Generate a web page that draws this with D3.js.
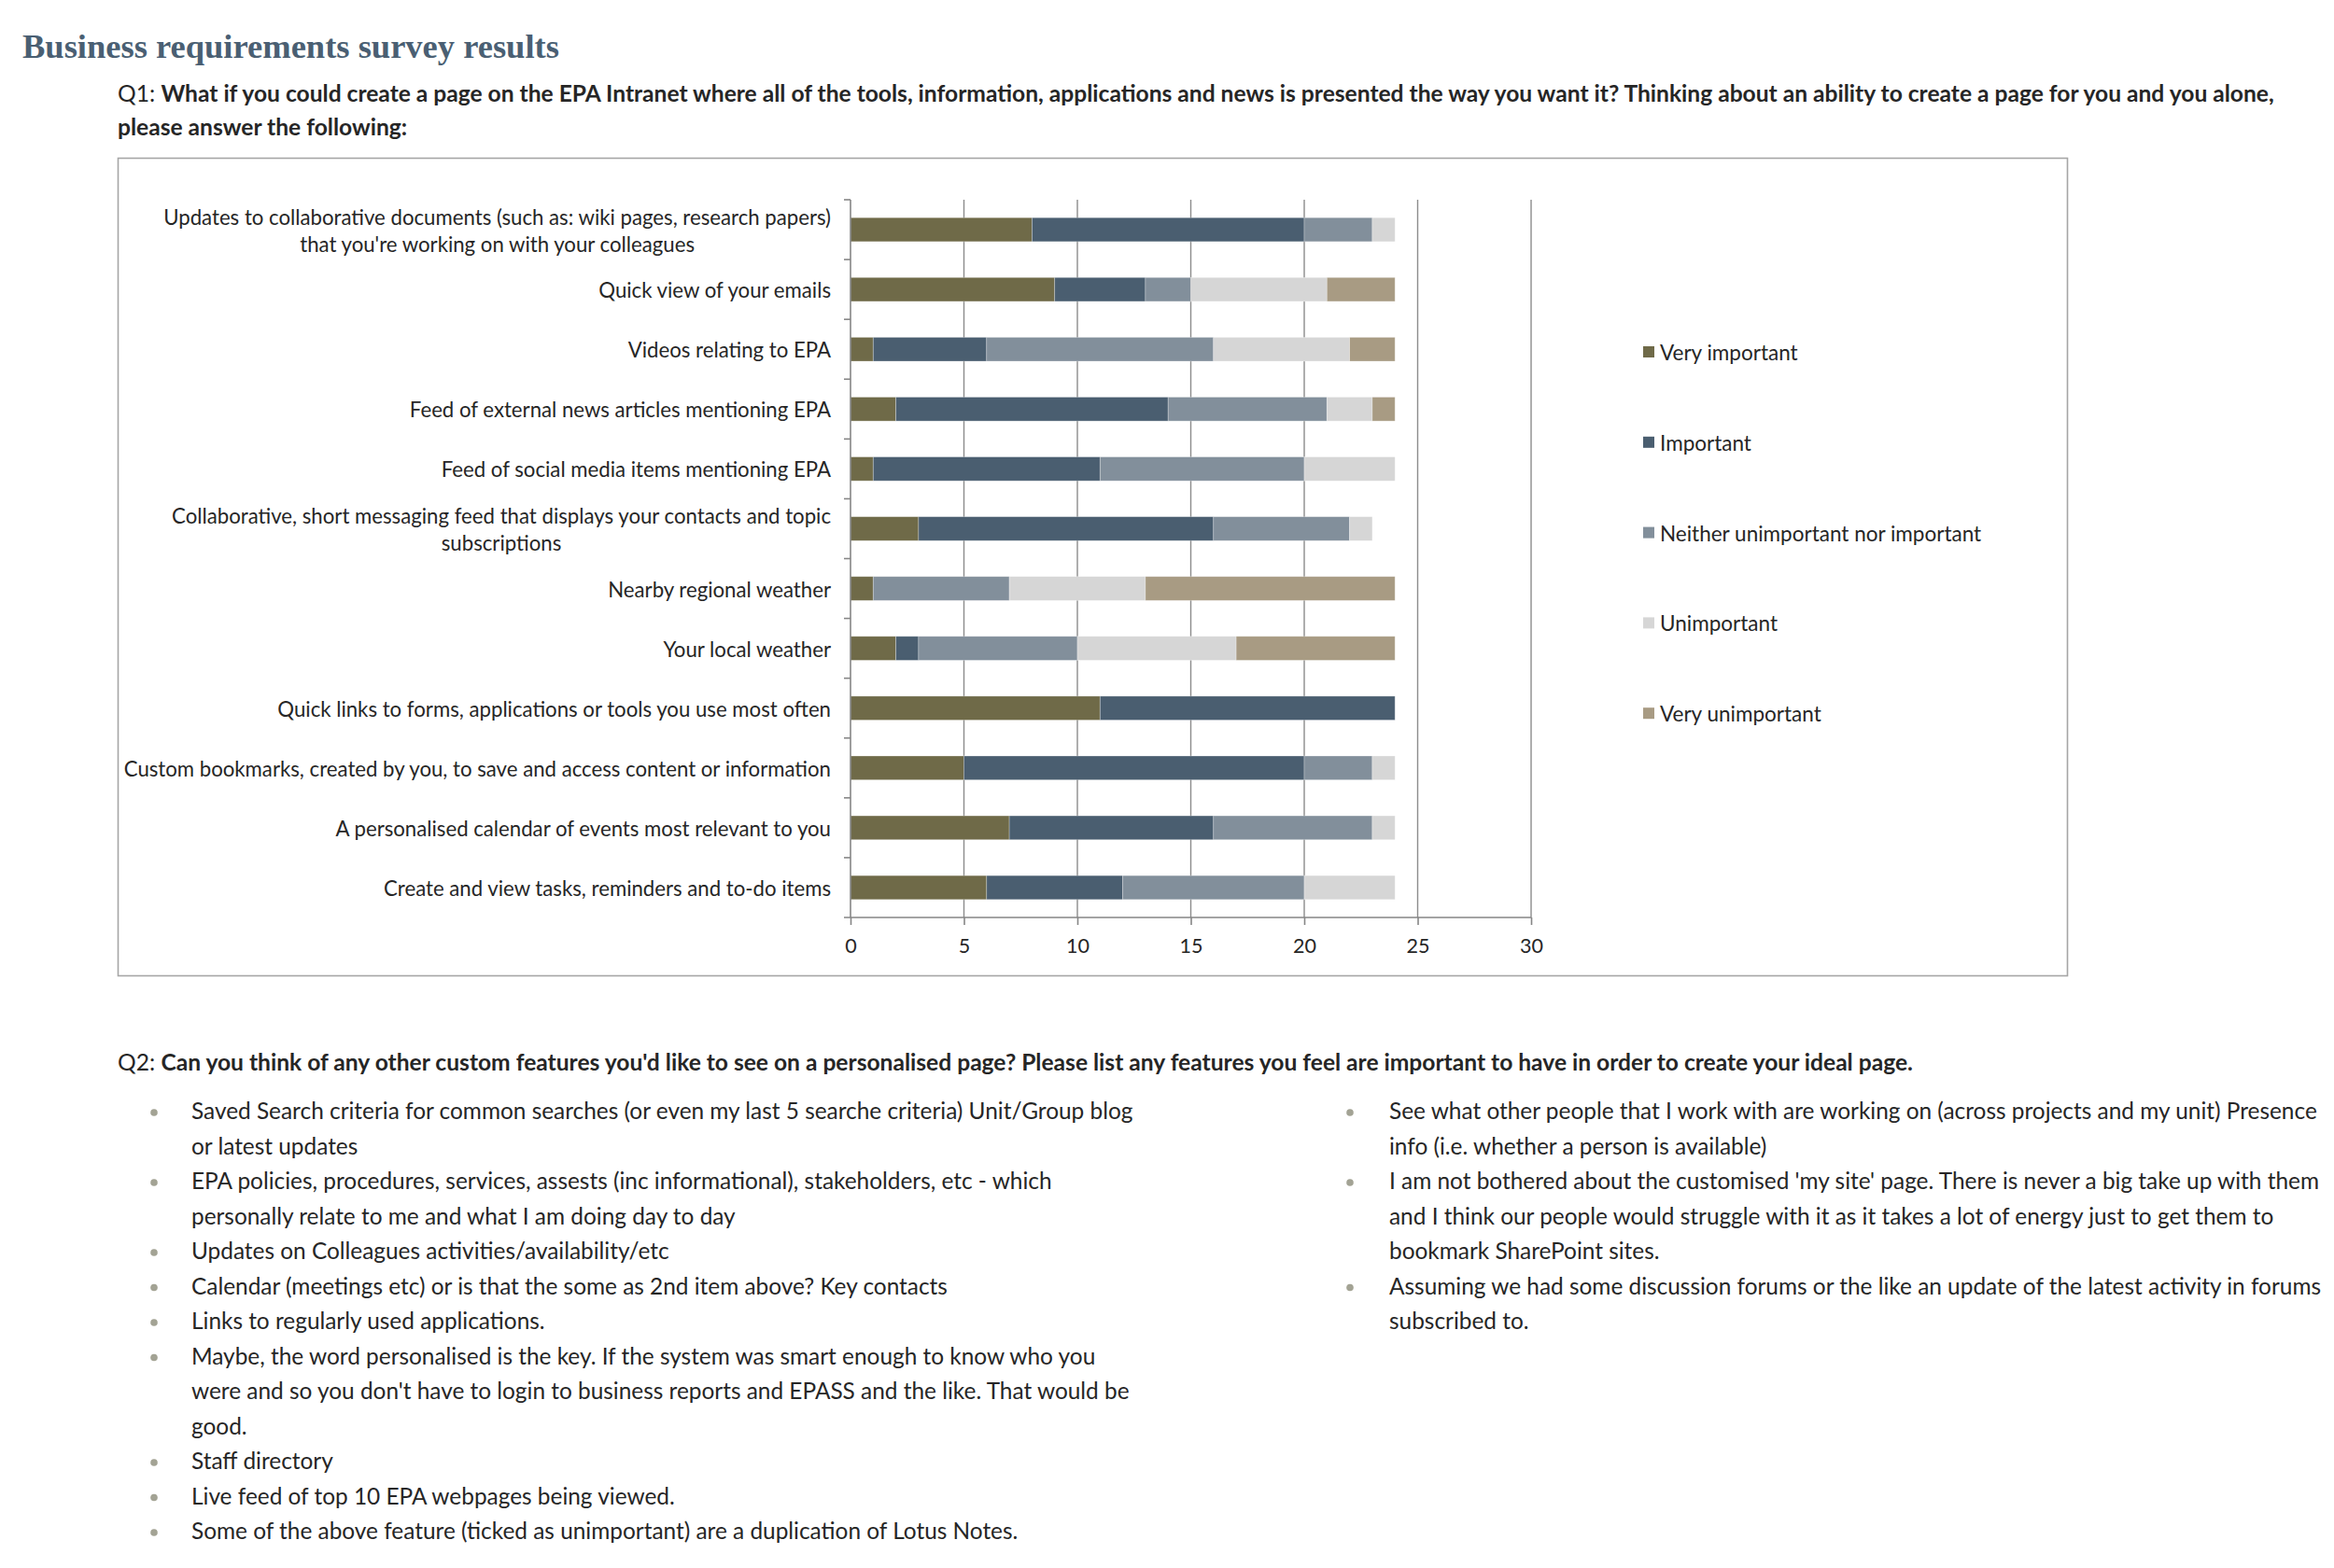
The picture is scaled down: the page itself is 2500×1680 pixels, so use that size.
<!DOCTYPE html>
<html>
<head>
<meta charset="utf-8">
<script src="https://cdn.jsdelivr.net/npm/d3@7"></script>
<style>
  body { margin: 0; background: #fff; }
  svg { display: block; }
</style>
</head>
<body>
<svg id="page" width="2500" height="1680"></svg>
<script>
// ---- data ----
const categories = [
  ["Updates to collaborative documents (such as: wiki pages, research papers)", "that you're working on with your colleagues"],
  ["Quick view of your emails"],
  ["Videos relating to EPA"],
  ["Feed of external news articles mentioning EPA"],
  ["Feed of social media items mentioning EPA"],
  ["Collaborative, short messaging feed that displays your contacts and topic", "subscriptions"],
  ["Nearby regional weather"],
  ["Your local weather"],
  ["Quick links to forms, applications or tools you use most often"],
  ["Custom bookmarks, created by you, to save and access content or information"],
  ["A personalised calendar of events most relevant to you"],
  ["Create and view tasks, reminders and to-do items"]
];
const seriesNames = ["Very important", "Important", "Neither unimportant nor important", "Unimportant", "Very unimportant"];
const veryImportant   = [8, 9, 1, 2, 1, 3, 1, 2, 11, 5, 7, 6];
const important       = [12, 4, 5, 12, 10, 13, 0, 1, 13, 15, 9, 6];
const neither         = [3, 2, 10, 7, 9, 6, 6, 7, 0, 3, 7, 8];
const unimportant     = [1, 6, 6, 2, 4, 1, 6, 7, 0, 1, 1, 4];
const veryUnimportant = [0, 3, 2, 1, 0, 0, 11, 7, 0, 0, 0, 0];
const xTicks = [0, 5, 10, 15, 20, 25, 30];

const titleText = "Business requirements survey results";
const q1Lines = [
  "What if you could create a page on the EPA Intranet where all of the tools, information, applications and news is presented the way you want it? Thinking about an ability to create a page for you and you alone,",
  "please answer the following:"
];
const q2Text = "Can you think of any other custom features you'd like to see on a personalised page? Please list any features you feel are important to have in order to create your ideal page.";
const leftBullets = [
  ["Saved Search criteria for common searches (or even my last 5 searche criteria) Unit/Group blog", "or latest updates"],
  ["EPA policies, procedures, services, assests (inc informational), stakeholders, etc - which", "personally relate to me and what I am doing day to day"],
  ["Updates on Colleagues activities/availability/etc"],
  ["Calendar (meetings etc) or is that the some as 2nd item above? Key contacts"],
  ["Links to regularly used applications."],
  ["Maybe, the word personalised is the key. If the system was smart enough to know who you", "were and so you don't have to login to business reports and EPASS and the like. That would be", "good."],
  ["Staff directory"],
  ["Live feed of top 10 EPA webpages being viewed."],
  ["Some of the above feature (ticked as unimportant) are a duplication of Lotus Notes."]
];
const rightBullets = [
  ["See what other people that I work with are working on (across projects and my unit) Presence", "info (i.e. whether a person is available)"],
  ["I am not bothered about the customised 'my site' page. There is never a big take up with them", "and I think our people would struggle with it as it takes a lot of energy just to get them to", "bookmark SharePoint sites."],
  ["Assuming we had some discussion forums or the like an update of the latest activity in forums", "subscribed to."]
];

const colors = ["#6f6a48", "#4a5e70", "#828f9b", "#d6d6d6", "#a89b83"];
const textColor = "#262626";
const font = "Lato, 'Open Sans', sans-serif";

const svg = d3.select("#page");

// ---- heading texts ----
svg.append("text")
  .attr("x", 24).attr("y", 62)
  .attr("font-family", "'Liberation Serif', serif")
  .attr("font-weight", "bold")
  .attr("font-size", 36.5)
  .attr("fill", "#4a5f73")
  .text(titleText);

const q1 = svg.append("g").attr("font-family", font).attr("font-size", 24.6).attr("fill", textColor);
const q1first = q1.append("text").attr("x", 126).attr("y", 109);
q1first.append("tspan").text("Q1: ");
q1first.append("tspan").attr("font-weight", "bold").text(q1Lines[0]);
q1.append("text").attr("x", 126).attr("y", 145).attr("font-weight", "bold").text(q1Lines[1]);

// ---- chart frame ----
svg.append("rect")
  .attr("x", 126.5).attr("y", 169.5)
  .attr("width", 2088).attr("height", 876)
  .attr("fill", "none").attr("stroke", "#a6a6a6").attr("stroke-width", 1.6);

// ---- scales ----
const rows = categories.map((c, i) => ({
  key: c.join(" "),
  lines: c,
  "Very important": veryImportant[i],
  "Important": important[i],
  "Neither unimportant nor important": neither[i],
  "Unimportant": unimportant[i],
  "Very unimportant": veryUnimportant[i]
}));

const x = d3.scaleLinear().domain([0, 30]).range([911, 1640]);
const y = d3.scaleBand()
  .domain(rows.map(d => d.key))
  .range([214, 983])
  .paddingInner(0.6)
  .paddingOuter(0.3);
const color = d3.scaleOrdinal().domain(seriesNames).range(colors);

// gridlines
svg.append("g")
  .selectAll("line")
  .data(xTicks.slice(1))
  .join("line")
    .attr("x1", d => x(d)).attr("x2", d => x(d))
    .attr("y1", 214).attr("y2", 983)
    .attr("stroke", "#8c8c8c").attr("stroke-width", 1.4);

// stacked bars
const stacked = d3.stack().keys(seriesNames)(rows);
svg.append("g")
  .selectAll("g")
  .data(stacked)
  .join("g")
    .attr("fill", d => color(d.key))
  .selectAll("rect")
  .data(d => d)
  .join("rect")
    .attr("x", d => x(d[0]))
    .attr("width", d => x(d[1]) - x(d[0]))
    .attr("y", d => y(d.data.key))
    .attr("height", y.bandwidth())
    .attr("stroke", "#ffffff").attr("stroke-opacity", 0.35).attr("stroke-width", 0.8);

// left axis with ticks between categories
const half = (y.step() - y.bandwidth()) / 2;
const bounds = rows.map(d => y(d.key) - half);
const left = svg.append("g").attr("stroke", "#868686").attr("stroke-width", 1.6);
left.append("line").attr("x1", x(0)).attr("x2", x(0)).attr("y1", 214).attr("y2", 983);
left.selectAll(".tk").data(bounds).join("line")
  .attr("class", "tk")
  .attr("x1", x(0) - 7).attr("x2", x(0))
  .attr("y1", d => d).attr("y2", d => d);

// bottom axis
const bottom = svg.append("g")
  .attr("transform", "translate(0,983)")
  .call(d3.axisBottom(x).tickValues(xTicks).tickSize(8).tickSizeOuter(0).tickPadding(15));
bottom.select(".domain").attr("stroke", "#868686").attr("stroke-width", 1.6)
  .attr("d", `M${x(0) - 7},0H${x(30)}`);
bottom.selectAll(".tick line").attr("stroke", "#868686").attr("stroke-width", 1.6);
bottom.selectAll(".tick text")
  .attr("font-family", font).attr("font-size", 21.5).attr("fill", textColor);

// category labels
const labels = svg.append("g").attr("font-family", font).attr("font-size", 22.2).attr("fill", textColor);
rows.forEach(d => {
  const cy = y(d.key) + y.bandwidth() / 2;
  const lh = 29;
  const t = labels.append("text");
  d.lines.forEach((ln, i) => {
    t.append("tspan").attr("y", cy + (i - (d.lines.length - 1) / 2) * lh + 9).text(ln);
  });
  // widest line right-aligned at 890, other lines centred on it
  const widths = [];
  t.selectAll("tspan").each(function() { widths.push(this.getComputedTextLength()); });
  const maxW = d3.max(widths);
  const mid = 890 - maxW / 2;
  t.attr("text-anchor", "middle").selectAll("tspan").attr("x", mid);
});

// legend
const legend = svg.append("g").attr("font-family", font).attr("font-size", 22.5).attr("fill", textColor);
seriesNames.forEach((s, i) => {
  const cy = 377 + i * 96.8;
  legend.append("rect").attr("x", 1760).attr("y", cy - 6).attr("width", 12).attr("height", 12).attr("fill", color(s));
  legend.append("text").attr("x", 1778).attr("y", cy + 9).text(s);
});

// ---- Q2 text and bullet lists ----
const q2 = svg.append("text").attr("x", 126).attr("y", 1147)
  .attr("font-family", font).attr("font-size", 24.6).attr("fill", textColor);
q2.append("tspan").text("Q2: ");
q2.append("tspan").attr("font-weight", "bold").text(q2Text);

function bulletList(items, bx, tx) {
  const g = svg.append("g").attr("font-family", font).attr("font-size", 24.4).attr("fill", textColor);
  let line = 0;
  items.forEach(item => {
    const base = 1199 + line * 37.5;
    g.append("circle").attr("cx", bx).attr("cy", base - 7).attr("r", 3.8).attr("fill", "#a3a394");
    item.forEach((ln, i) => {
      g.append("text").attr("x", tx).attr("y", 1199 + (line + i) * 37.5).text(ln);
    });
    line += item.length;
  });
}
bulletList(leftBullets, 165, 205);
bulletList(rightBullets, 1446, 1488);
</script>
</body>
</html>
